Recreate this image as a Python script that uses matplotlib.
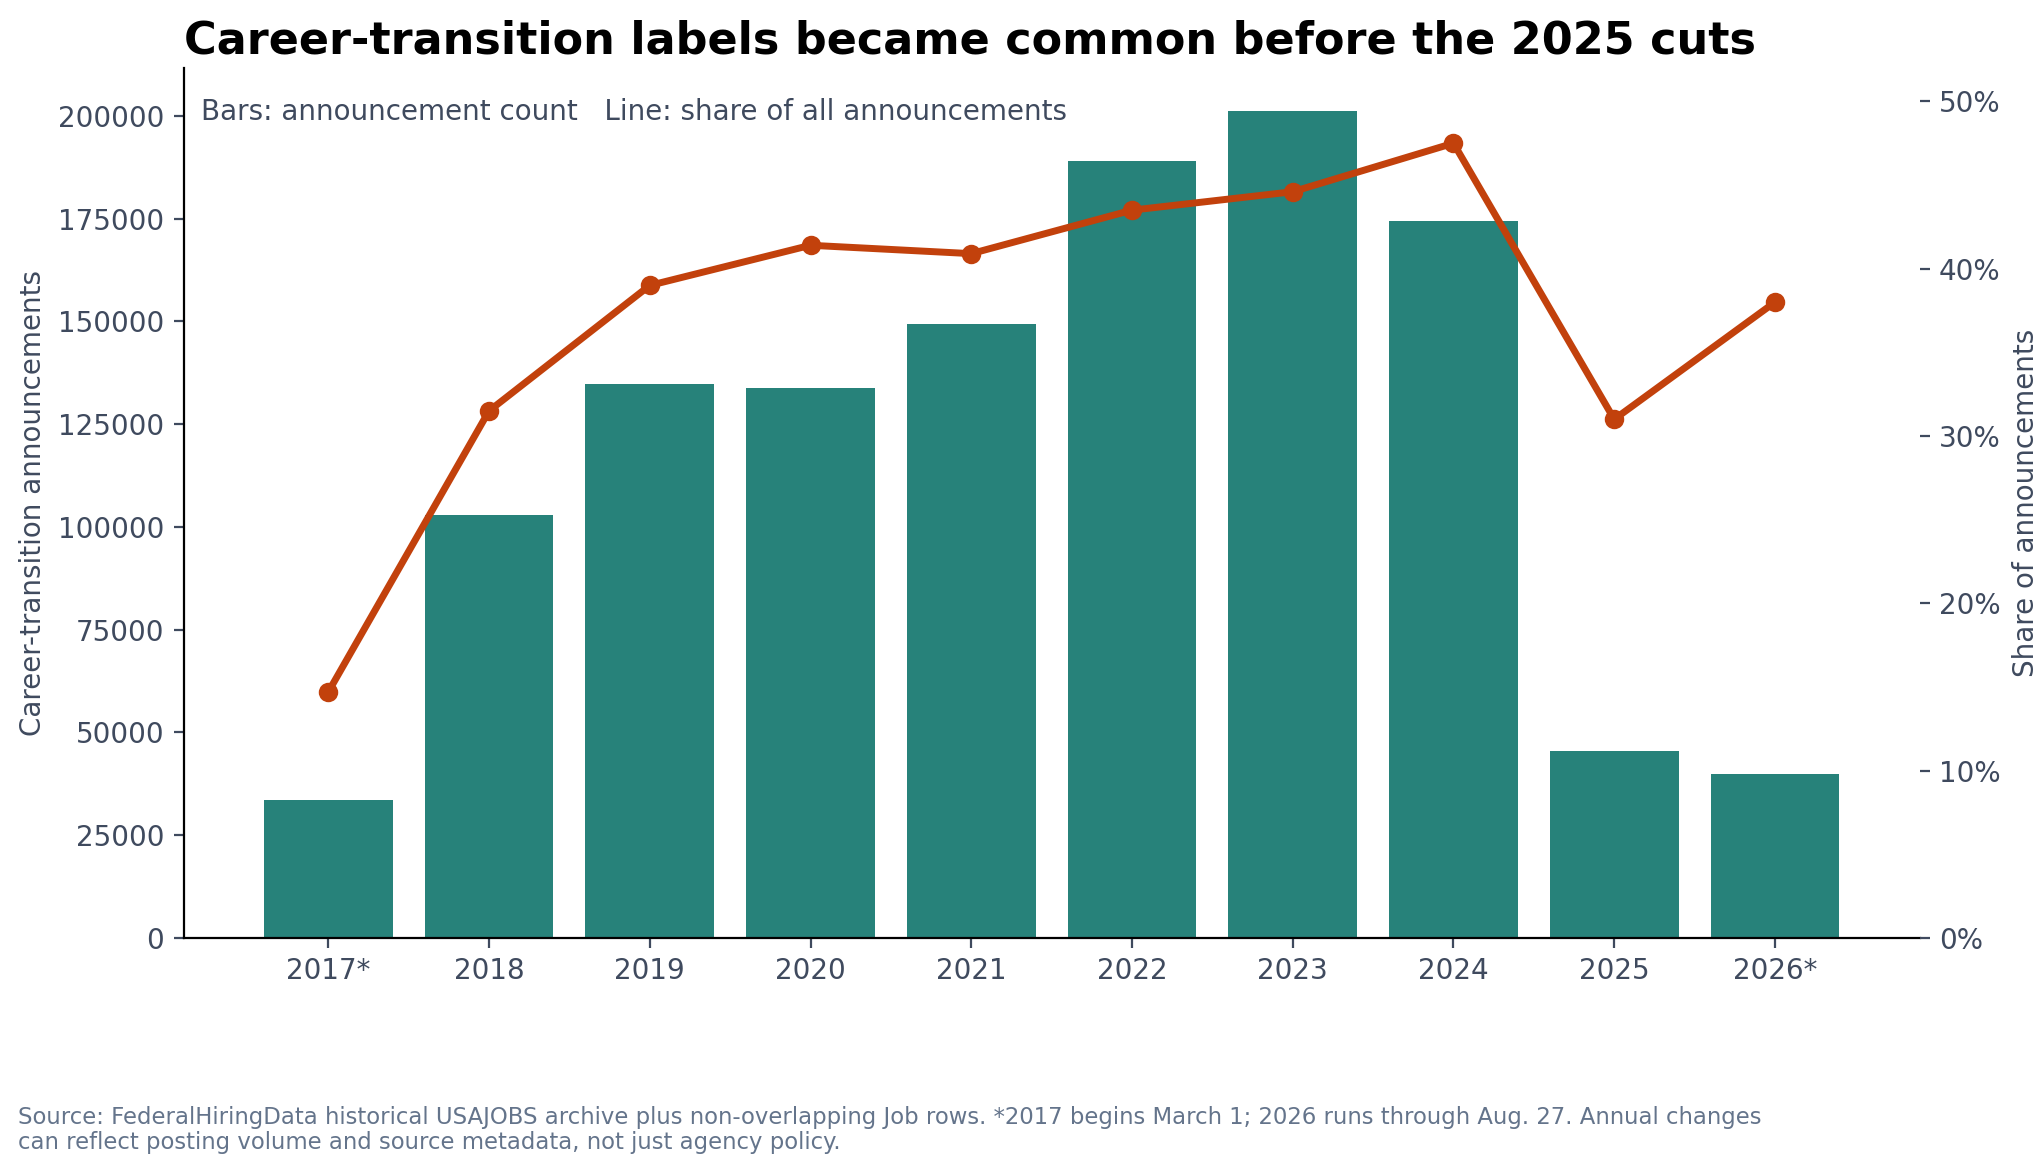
import matplotlib
matplotlib.use("Agg")
import matplotlib.pyplot as plt
from matplotlib.ticker import FuncFormatter

years = ["2017*", "2018", "2019", "2020", "2021", "2022", "2023", "2024", "2025", "2026*"]
counts = [33500, 103000, 134800, 133800, 149300, 189000, 201200, 174500, 45500, 39800]
share = [14.7, 31.5, 39.0, 41.4, 40.9, 43.5, 44.6, 47.5, 31.0, 38.0]

txt = "#3f4a5e"
fig = plt.figure(figsize=(10.2, 5.855), dpi=200)
ax = fig.add_axes([0.090, 0.199, 0.851, 0.743])
x = list(range(len(years)))
ax.bar(x, counts, width=0.8, color="#27827a", zorder=2)
ax.set_ylim(0, 211700)
ax.set_xlim(-0.9, 9.9)
ax.set_xticks(x)
ax.set_xticklabels(years)
ax.set_ylabel("Career-transition announcements", color=txt, fontsize=10)
ax.tick_params(colors=txt, labelsize=10)
ax.spines["top"].set_visible(False)
ax.spines["right"].set_visible(False)

ax2 = ax.twinx()
ax2.plot(x, share, color="#c2410c", lw=2.5, marker="o", ms=6, zorder=3)
ax2.set_ylim(0, 52)
ax2.set_yticks([0, 10, 20, 30, 40, 50])
ax2.yaxis.set_major_formatter(FuncFormatter(lambda v, p: f"{v:.0f}%"))
ax2.set_ylabel("Share of announcements", color=txt, fontsize=10)
ax2.tick_params(colors=txt, labelsize=10)
for s in ["top", "right", "left", "bottom"]:
    ax2.spines[s].set_visible(False)

ax.text(0.01, 0.965, "Bars: announcement count   Line: share of all announcements",
        transform=ax.transAxes, ha="left", va="top", color=txt, fontsize=10)
fig.text(0.090, 0.965, "Career-transition labels became common before the 2025 cuts",
         ha="left", va="center", fontsize=16, fontweight="bold")
fig.text(0.009, 0.035,
         "Source: FederalHiringData historical USAJOBS archive plus non-overlapping Job rows. *2017 begins March 1; 2026 runs through Aug. 27. Annual changes\ncan reflect posting volume and source metadata, not just agency policy.",
         ha="left", va="center", fontsize=8.2, color="#64748b", linespacing=1.1)
fig.savefig("out.png", dpi=200)
